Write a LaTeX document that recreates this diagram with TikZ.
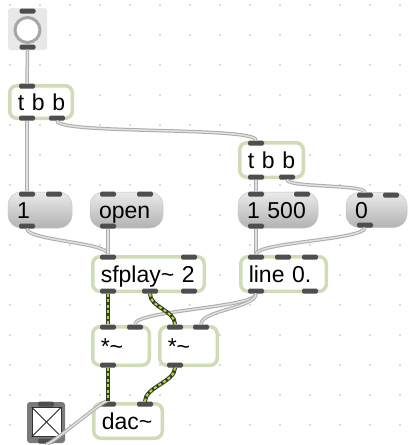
\documentclass[tikz,border=0pt]{standalone}
\usepackage{fontspec}
\setmainfont{Liberation Sans}
\usepackage{tikz}
\usetikzlibrary{arrows.meta, positioning, shapes}

\definecolor{boxrim}{RGB}{207,220,183}
\definecolor{porttone}{RGB}{78,78,78}
\definecolor{cordrim}{RGB}{172,172,172}
\definecolor{cordcore}{RGB}{224,224,224}
\definecolor{sigrim}{RGB}{55,62,35}
\definecolor{sigcore}{RGB}{178,218,72}
\definecolor{gridtone}{RGB}{185,185,185}

\begin{document}
\begin{tikzpicture}[x=1pt, y=1pt,
    patchfont/.style={font=\fontsize{23}{26}\selectfont},
    obj/.style={patchfont, draw=boxrim, line width=3.5pt, fill=white, rounded corners=7pt,
        inner xsep=8pt, inner ysep=0pt, align=left, text height=21pt, text depth=4.6pt},
    msg/.style={patchfont, draw=black!22, line width=0.5pt, top color=black!8, bottom color=black!30,
        rounded corners=13pt, inner xsep=9pt, inner ysep=0pt, align=left, text height=21pt, text depth=4.6pt},
    port/.style={fill=porttone, rounded corners=1.5pt, minimum width=16pt, minimum height=5pt, inner sep=0pt},
    wire/.style={draw=cordrim, line width=1pt, double=cordcore, double distance=1.5pt},
    sig/.style={draw=sigrim, line width=4pt, postaction={draw=sigcore, line width=2pt, dash pattern=on 3pt off 2.5pt}},
    sag/.style={out=-90, in=90, distance=#1}, sag/.default=12pt]

    \useasboundingbox[fill=white] (0,0) rectangle (409,-445);

    % Grid dots
    \foreach \gx in {10,40,...,400}
        \foreach \gy in {5,35,...,425}
            \fill[gridtone] (\gx,-\gy) circle (0.9);

    % Bang
    \node[fill=black!9, rounded corners=3pt, minimum width=39pt, minimum height=42pt] (bang) at (27.5,-29) {};
    \node[circle, draw=black!35, line width=3pt, fill=white, minimum size=25pt, inner sep=0pt] (bangRing) at (27.5,-30) {};

    % Objects
    \node[obj, text width=46.5pt, minimum height=32.5pt] (tbbA) at (41,-102) {\mbox{t b b}};
    \node[obj, text width=47.5pt, minimum height=34.5pt] (tbbB) at (271.5,-160) {\mbox{t b b}};
    \node[obj, text width=95.5pt, minimum height=34.5pt] (sfplay) at (148.5,-274) {\mbox{sfplay\textasciitilde\ 2}};
    \node[obj, text width=69.5pt, minimum height=34.5pt] (ramp) at (283.5,-274) {\mbox{line 0.}};
    \node[obj, text width=40.5pt, minimum height=38.5pt] (mulA) at (121,-346) {*\textasciitilde};
    \node[obj, text width=41.5pt, minimum height=38.5pt] (mulB) at (188.5,-346) {*\textasciitilde};
    \node[obj, text width=52.5pt, minimum height=34.5pt] (dac) at (128,-421) {dac\textasciitilde};

    % Messages
    \node[msg, text width=46pt, minimum height=36pt] (msgOne) at (40,-210) {1};
    \node[msg, text width=55pt, minimum height=36pt] (msgOpen) at (126.5,-210) {open};
    \node[msg, text width=62pt, minimum height=36pt] (msgDur) at (278,-210) {\mbox{1 500}};
    \node[msg, text width=43pt, minimum height=35pt] (msgZero) at (376.5,-210) {0};

    % Toggle
    \node[fill=black!52, rounded corners=3pt, minimum width=38pt, minimum height=41pt] (toggle) at (46,-422.5) {};
    \node[draw=black!80, line width=0.6pt, fill=white, minimum size=29pt, inner sep=0pt] (toggleBox) at (46.5,-422) {};
    \draw[black!85, line width=0.8pt] (toggleBox.north west) -- (toggleBox.south east);
    \draw[black!85, line width=0.8pt] (toggleBox.north east) -- (toggleBox.south west);

    % Inlets and outlets
    \node[port] (bangIn) at (27.5,-11) {};
    \node[port] (bangOut) at (27.5,-47) {};
    \node[port] (tbbAin) at (27,-86) {};
    \node[port] (tbbAo1) at (27,-118) {};
    \node[port] (tbbAo2) at (57,-118) {};
    \node[port] (tbbBin) at (256,-143) {};
    \node[port] (tbbBo1) at (256,-177) {};
    \node[port] (tbbBo2) at (287,-177) {};
    \node[port] (msgOneIn1) at (27,-194) {};
    \node[port] (msgOneIn2) at (54,-194) {};
    \node[port] (msgOneOut) at (27,-226) {};
    \node[port] (msgOpenIn1) at (108,-194) {};
    \node[port] (msgOpenIn2) at (145,-194) {};
    \node[port] (msgOpenOut) at (108,-226) {};
    \node[port] (msgDurIn1) at (256,-194) {};
    \node[port] (msgDurIn2) at (302,-194) {};
    \node[port] (msgDurOut) at (256,-226) {};
    \node[port] (msgZeroIn1) at (365,-195) {};
    \node[port] (msgZeroIn2) at (391,-195) {};
    \node[port] (msgZeroOut) at (365,-225) {};
    \node[port] (sfplayIn1) at (108,-257) {};
    \node[port] (sfplayIn2) at (189,-257) {};
    \node[port] (sfplayO1) at (108,-291) {};
    \node[port] (sfplayO2) at (150,-291) {};
    \node[port] (sfplayO3) at (189,-291) {};
    \node[port] (rampIn1) at (256,-257) {};
    \node[port] (rampIn2) at (283,-257) {};
    \node[port] (rampIn3) at (310,-257) {};
    \node[port] (rampO1) at (256,-291) {};
    \node[port] (rampO2) at (310,-291) {};
    \node[port] (mulAin1) at (108,-327) {};
    \node[port] (mulAin2) at (135,-327) {};
    \node[port] (mulAout) at (108,-365) {};
    \node[port] (mulBin1) at (175,-327) {};
    \node[port] (mulBin2) at (201,-327) {};
    \node[port] (mulBout) at (175,-365) {};
    \node[port] (dacIn1) at (108,-404) {};
    \node[port] (dacIn2) at (145,-404) {};
    \node[port] (toggleIn) at (46,-404) {};
    \node[port] (toggleOut) at (46,-441) {};

    % Control cords
    \draw[wire] (bangOut) -- (tbbAin);
    \draw[wire] (tbbAo1) -- (msgOneIn1);
    \draw[wire] (tbbAo2) to[sag=14pt] (tbbBin);
    \draw[wire] (tbbBo1) -- (msgDurIn1);
    \draw[wire] (tbbBo2) to[sag=8pt] (msgZeroIn1);
    \draw[wire] (msgOneOut) to[sag] (sfplayIn1);
    \draw[wire] (msgOpenOut) -- (sfplayIn1);
    \draw[wire] (msgDurOut) -- (rampIn1);
    \draw[wire] (msgZeroOut) to[sag] (rampIn1);
    \draw[wire] (rampO1) to[sag=14pt] (mulAin2);
    \draw[wire] (rampO1) to[sag=14pt] (mulBin2);
    \draw[wire] (toggleOut) to[sag=6pt] (dacIn1);

    % Signal cords
    \draw[sig] (sfplayO1) -- (mulAin1);
    \draw[sig] (sfplayO2) to[sag=14pt] (mulBin1);
    \draw[sig] (mulAout) -- (dacIn1);
    \draw[sig] (mulBout) to[sag=14pt] (dacIn2);
\end{tikzpicture}
\end{document}
